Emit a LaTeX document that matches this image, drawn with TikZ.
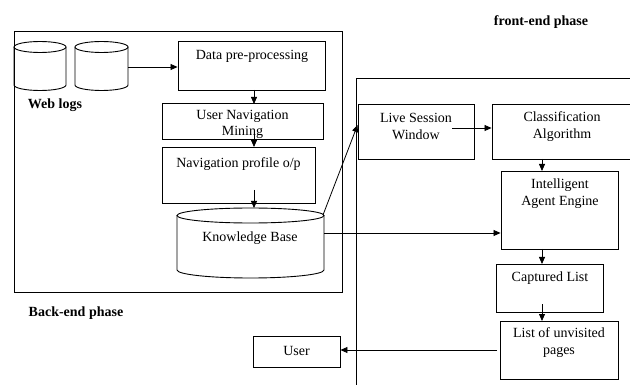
\documentclass[tikz,border=0pt]{standalone}
\usepackage{fontspec}
\setmainfont{Liberation Serif}
\usetikzlibrary{arrows.meta}
\begin{document}
\begin{tikzpicture}[x=1pt,y=-1pt,
  box/.style={draw,line width=0.9pt,inner sep=0pt},
  txt/.style={font=\fontsize{14}{17}\selectfont,align=center,inner sep=0pt},
  btxt/.style={font=\fontsize{14}{17}\selectfont\bfseries,inner sep=0pt},
  arr/.style={-{Triangle[length=7pt,width=6pt]},line width=0.8pt},
  ln/.style={line width=0.9pt}]
\useasboundingbox (0,0) rectangle (630,385);
\clip (0,0) rectangle (630,385);
\fill[white] (0,0) rectangle (630,385);

% back-end frame
\draw[ln] (14,31) rectangle (342,292);
% front-end frame
\draw[ln] (356,400) -- (356,78) -- (640,78);

% web log cylinders
\draw[ln] (14,47) -- (14,85) arc[start angle=180,end angle=0,x radius=26,y radius=5.5] -- (66,47);
\draw[ln] (40,47) ellipse[x radius=26,y radius=5.5];
\draw[ln] (75,47) -- (75,85) arc[start angle=180,end angle=0,x radius=26.5,y radius=5.5] -- (128,47);
\draw[ln] (101.5,47) ellipse[x radius=26.5,y radius=5.5];
\coordinate (wl) at (128,67);
\node[btxt] (weblogs) at (55,105) {Web logs};

% back-end boxes
\node[box,minimum width=147,minimum height=49] (dp) at (251.5,65.5) {};
\node[txt] (dpt) at (252,56) {Data pre-processing};
\node[box,minimum width=161,minimum height=36] (unm) at (242.5,121.5) {};
\node[txt,font=\fontsize{14}{16}\selectfont] (unmt) at (242.5,124) {User Navigation\\Mining};
\node[box,minimum width=153,minimum height=56] (np) at (238.5,175) {};
\node[txt] (npt) at (238.5,164) {Navigation profile o/p};

% knowledge base cylinder
\draw[ln] (177,215.5) -- (177,270) arc[start angle=180,end angle=0,x radius=73.5,y radius=8] -- (324,215.5);
\draw[ln] (250.5,215.5) ellipse[x radius=73.5,y radius=7.5];
\node[txt] (kb) at (250,238) {Knowledge Base};
\coordinate (kbr) at (324,233);
\coordinate (kbtr) at (323,215);

\node[btxt] (back) at (76,313) {Back-end phase};
\node[btxt] (front) at (541,22) {front-end phase};

% front-end boxes
\node[box,minimum width=116,minimum height=55] (lsw) at (416,131.5) {};
\node[txt] (lswt) at (416,126.5) {Live Session\\Window};
\node[box,minimum width=140,minimum height=55] (ca) at (562,131.5) {};
\node[txt] (cat) at (562,126.5) {Classification\\Algorithm};
\node[box,minimum width=117,minimum height=78] (iae) at (559.5,210) {};
\node[txt] (iaet) at (560,193.5) {Intelligent\\Agent Engine};
\node[box,minimum width=107,minimum height=48] (cl) at (549.5,288) {};
\node[txt] (clt) at (550,278) {Captured List};
\node[box,minimum width=118,minimum height=58] (lup) at (559,350) {};
\node[txt] (lupt) at (559,343) {List of unvisited\\pages};
\node[box,minimum width=87,minimum height=31] (user) at (296.5,351.5) {};
\node[txt] (usert) at (296.5,351) {User};

% connectors
\draw[arr] (wl) -- (wl -| dp.west);
\draw[arr] (254,90) -- (254,104);
\draw[arr] (254,132) -- (254,147);
\draw[arr] (254,190) -- (254,208);
\draw[arr] (kbtr) -- (lsw.west |- 0,125);
\draw[arr] (kbr) -- (kbr -| iae.west);
\draw[arr] (452,128) -- (ca.west |- 0,128);
\draw[arr] (542,159) -- (542,171);
\draw[arr] (542,249) -- (542,264);
\draw[arr] (542,304) -- (542,321);
\coordinate (lupl) at (497,350);
\draw[arr] (lupl) -- (lupl -| user.east);
\end{tikzpicture}
\end{document}
